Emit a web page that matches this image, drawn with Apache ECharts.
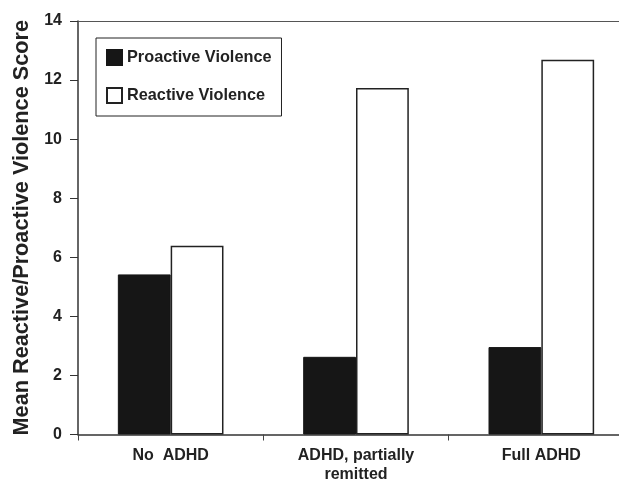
<!DOCTYPE html>
<html>
<head>
<meta charset="utf-8">
<script src="https://cdn.jsdelivr.net/npm/echarts@6/dist/echarts.min.js"></script>
<style>html,body{margin:0;padding:0;background:#fff;overflow:hidden;width:619px;height:481px}#c{width:645px;height:481px}</style>
</head>
<body>
<div id="c"></div>
<script>
const categories = ['No  ADHD', 'ADHD, partially\nremitted', 'Full ADHD'];
const proactive = [5.42, 2.63, 2.96];
const reactive = [6.39, 11.73, 12.69];
const seriesNames = ['Proactive Violence', 'Reactive Violence'];
const yTicks = { min: 0, max: 14, interval: 2 };
const yTitle = 'Mean Reactive/Proactive Violence Score';

const font = '"Liberation Sans", Arial, Helvetica, sans-serif';
const chart = echarts.init(document.getElementById('c'), null, { renderer: 'canvas' });
chart.setOption({
  animation: false,
  backgroundColor: '#fff',
  grid: { left: 78, top: 21, width: 556, height: 413.5, outerBoundsMode: 'none', containLabel: false, show: false },
  legend: {
    orient: 'vertical', left: 96, top: 38,
    padding: [11, 10, 12, 10],
    itemGap: 21, itemWidth: 15, itemHeight: 15,
    borderColor: '#222', borderWidth: 1,
    icon: 'rect',
    textStyle: { fontFamily: font, fontWeight: 'bold', fontSize: 16.3, color: '#222' },
    data: seriesNames
  },
  xAxis: [{
    type: 'category', data: categories,
    axisLine: { lineStyle: { color: '#333', width: 1.5 } },
    axisTick: { show: true, length: 6, lineStyle: { color: '#444', width: 1 } },
    axisLabel: { fontFamily: font, fontWeight: 'bold', fontSize: 16, color: '#222', margin: 12, lineHeight: 19, interval: 0 },
    splitLine: { show: false }
  }, {
    type: 'category', data: categories, position: 'top',
    axisLine: { show: true, lineStyle: { color: '#555', width: 1.2 } },
    axisTick: { show: false }, axisLabel: { show: false }, splitLine: { show: false }
  }],
  yAxis: {
    type: 'value', min: yTicks.min, max: yTicks.max, interval: yTicks.interval,
    name: yTitle, nameLocation: 'middle', nameGap: 43,
    nameTextStyle: { fontFamily: font, fontWeight: 'bold', fontSize: 21.7, color: '#222' },
    axisLine: { show: true, lineStyle: { color: '#333', width: 1.5 } },
    axisTick: { show: true, length: 8, lineStyle: { color: '#333', width: 1 } },
    axisLabel: { fontFamily: font, fontWeight: 'bold', fontSize: 16, color: '#222', margin: 16 },
    splitLine: { show: false }
  },
  series: [
    { name: seriesNames[0], type: 'bar', data: proactive, barGap: '0%', barCategoryGap: '43%',
      itemStyle: { color: '#161616', borderColor: '#161616', borderWidth: 1 } },
    { name: seriesNames[1], type: 'bar', data: reactive, barGap: '0%', barCategoryGap: '43%',
      itemStyle: { color: '#fff', borderColor: '#222', borderWidth: 1.5 } }
  ]
});
</script>
</body>
</html>
